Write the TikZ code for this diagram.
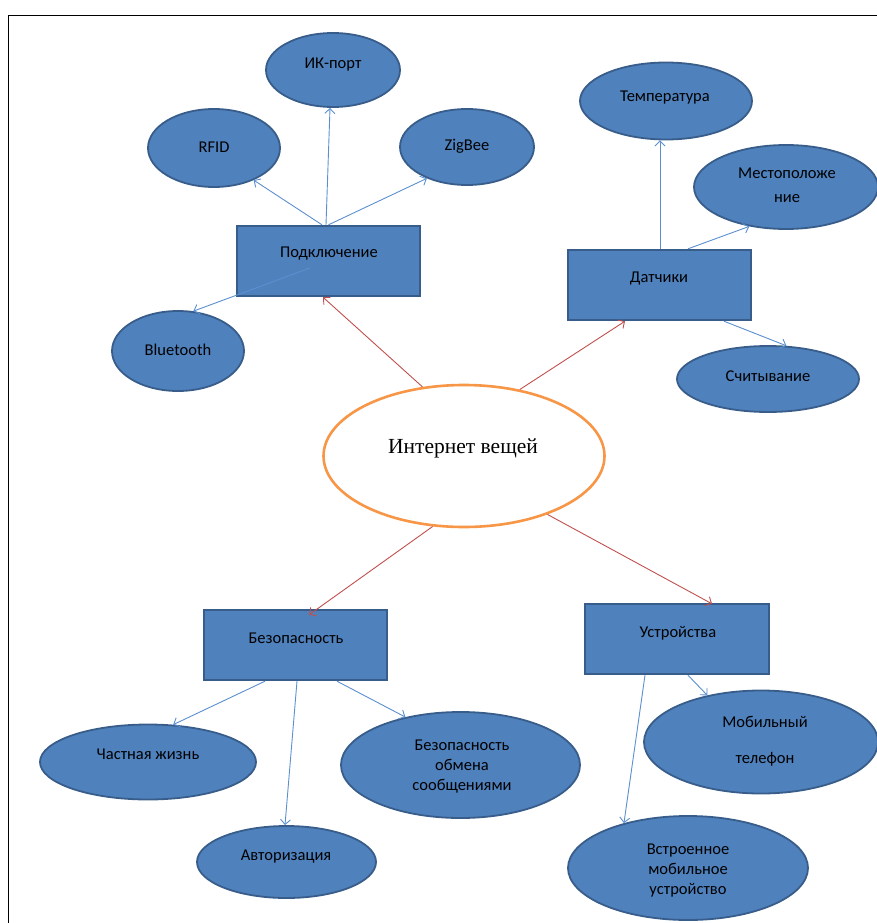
\documentclass[tikz,border=0pt]{standalone}
\usepackage{fontspec}
\setmainfont{Carlito}
\newfontfamily\serifcyr{Liberation Serif}
\usetikzlibrary{shapes.geometric,arrows.meta}
\definecolor{bfill}{HTML}{4F81BD}
\definecolor{bline}{HTML}{385D8A}
\definecolor{conn}{HTML}{5B8FD0}
\definecolor{redc}{HTML}{C0504D}
\definecolor{orangec}{HTML}{F79646}
\tikzset{
  ell/.style={ellipse,draw=bline,fill=bfill,line width=1.8pt,inner sep=0pt},
  box/.style={rectangle,draw=bline,fill=bfill,line width=2.4pt,inner sep=0pt},
  txt/.style={font=\fontsize{16.5}{20}\selectfont,text=black,inner sep=0pt,align=center},
  bl/.style={draw=conn,line width=0.9pt,-{Straight Barb[length=5pt,width=10pt]}},
  rd/.style={draw=redc,line width=0.9pt,-{Straight Barb[length=5pt,width=10pt]}}
}
\begin{document}
\begin{tikzpicture}[x=1pt,y=-1pt]
\useasboundingbox (0,0) rectangle (877,923);
\draw[line width=1.8pt,black] (8.5,923) coordinate (fa) -- (8.5,15.5) coordinate (fb) -- (877,15.5) coordinate (fc);
% nodes
\node[ell,minimum width=134pt,minimum height=74pt] (ik) at (333,70) {};
\node[ell,minimum width=132pt,minimum height=78pt] (rfid) at (214,148) {};
\node[ell,minimum width=134pt,minimum height=76pt] (zig) at (467,147) {};
\node[box,minimum width=183pt,minimum height=70pt] (pod) at (328.5,261) {};
\node[ell,minimum width=132pt,minimum height=80pt] (blu) at (178,351) {};
\node[ell,minimum width=172pt,minimum height=77pt] (temp) at (666,101) {};
\node[ell,minimum width=184pt,minimum height=84pt] (mest) at (786,187) {};
\node[box,minimum width=183pt,minimum height=70pt] (dat) at (659.5,285) {};
\node[ell,minimum width=182pt,minimum height=66pt] (sch) at (768,379) {};
\node[ellipse,draw=orangec,fill=white,line width=2.6pt,inner sep=0pt,minimum width=281pt,minimum height=142pt] (iot) at (464,456) {};
\node[box,minimum width=183pt,minimum height=70pt] (bez) at (295.5,645) {};
\node[box,minimum width=184pt,minimum height=70pt] (ust) at (677,639) {};
\node[ell,minimum width=216pt,minimum height=75pt] (chast) at (148,762) {};
\node[ell,minimum width=239pt,minimum height=106pt] (obm) at (460.5,765) {};
\node[ell,minimum width=179pt,minimum height=72pt] (avt) at (286.5,862) {};
\node[ell,minimum width=234pt,minimum height=103pt] (mob) at (761,742) {};
\node[ell,minimum width=240pt,minimum height=104pt] (vstr) at (688,868) {};
% texts
\node[txt] (tik) at (333,65) {ИК-порт};
\node[txt] (trfid) at (214,147) {RFID};
\node[txt] (tzig) at (467,146) {ZigBee};
\node[txt] (tpod) at (329,254) {Подключение};
\node[txt] (tblu) at (178,350) {Bluetooth};
\node[txt] (ttemp) at (665,98) {Температура};
\node[txt,font=\fontsize{16.5}{24}\selectfont] (tmest) at (787,185) {Местоположе\\ние};
\node[txt] (tdat) at (659,278) {Датчики};
\node[txt] (tsch) at (768,376) {Считывание};
\node[txt,font=\serifcyr\fontsize{21.5}{24}\selectfont] (tiot) at (463,448) {Интернет вещей};
\node[txt] (tbez) at (296,638) {Безопасность};
\node[txt] (tust) at (678,633) {Устройства};
\node[txt] (tchast) at (148,754) {Частная жизнь};
\node[txt] (tobm) at (462,767) {Безопасность\\обмена\\сообщениями};
\node[txt] (tavt) at (286,857) {Авторизация};
\node[txt,font=\fontsize{16.5}{36}\selectfont] (tmob) at (765,741) {Мобильный\\телефон};
\node[txt] (tvstr) at (688,871) {Встроенное\\мобильное\\устройство};
% connectors
\draw[bl] ([xshift=-6.5pt]pod.north) -- (rfid.-39);
\draw[bl] ([xshift=-2.5pt]pod.north) -- ([xshift=-3pt]ik.south);
\draw[bl] ([xshift=0pt]pod.north) -- (zig.-142);
\draw[bl] ([xshift=-18.5pt,yshift=-7pt]pod.center) -- (blu.69);
\draw[bl] ([xshift=0.5pt]dat.north) -- ([xshift=-6pt]temp.south);
\draw[bl] ([xshift=28.5pt]dat.north) -- (mest.-133);
\draw[bl] ([xshift=64.5pt]dat.south) -- (sch.61);
\draw[bl] ([xshift=-30.5pt]bez.south) -- (chast.56);
\draw[bl] ([xshift=1.5pt]bez.south) -- ([xshift=-1.5pt]avt.north);
\draw[bl] ([xshift=41.5pt]bez.south) -- (obm.139.5);
\draw[bl] ([xshift=-32pt]ust.south) -- (vstr.145);
\draw[bl] ([xshift=11pt]ust.south) -- (mob.139.5);
\draw[rd] (iot.121) -- ([xshift=-5.5pt]pod.south);
\draw[rd] (iot.50) -- ([xshift=-34.5pt]dat.south);
\draw[rd] (iot.-114) -- ([xshift=13.5pt,yshift=-6pt]bez.north);
\draw[rd] (iot.-35) -- ([xshift=35pt,yshift=-1pt]ust.north);
\end{tikzpicture}
\end{document}
